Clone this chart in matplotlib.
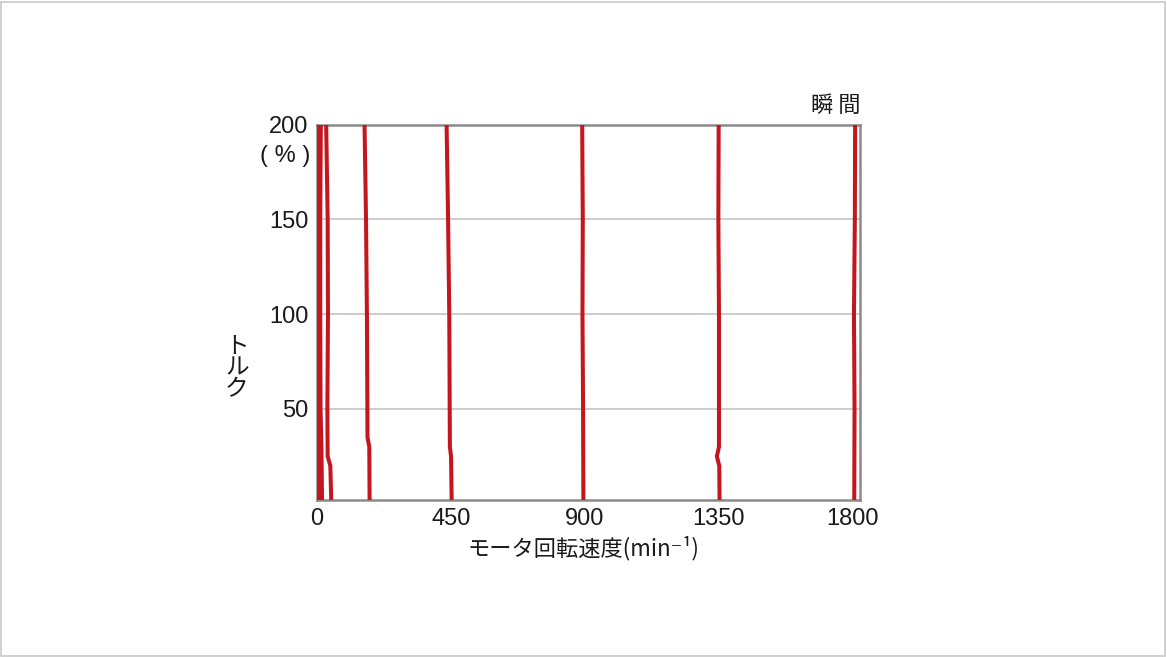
import matplotlib
matplotlib.use("Agg")
import matplotlib.pyplot as plt
from matplotlib.patches import Rectangle

plt.rcParams['font.family'] = ['Liberation Sans', 'Noto Sans CJK JP', 'DejaVu Sans']

# torque (%) sample points and motor speed (min^-1) of each red trace
torque_a = [2, 30, 50, 100, 150, 200]
speed_a = [5, 5, 4, 4, 4, 3]
torque_b = [2, 30, 50, 100, 150, 200]
speed_b = [17, 15, 12, 11, 11, 13]
torque_c = [2, 20, 25, 50, 100, 150, 200]
speed_c = [48, 45, 36, 35, 37, 36, 31]
torque_d = [2, 30, 35, 100, 150, 200]
speed_d = [177, 176, 170, 168, 165, 160]
torque_e = [2, 25, 30, 100, 150, 200]
speed_e = [453, 451, 447, 445, 441, 436]
torque_f = [2, 50, 100, 150, 200]
speed_f = [896, 895, 893, 894, 892]
torque_g = [2, 20, 25, 30, 100, 150, 200]
speed_g = [1354, 1353, 1345, 1352, 1352, 1350, 1351]
torque_h = [2, 50, 100, 150, 200]
speed_h = [1807, 1808, 1806, 1809, 1810]

traces = [(speed_a, torque_a), (speed_b, torque_b), (speed_c, torque_c),
          (speed_d, torque_d), (speed_e, torque_e), (speed_f, torque_f),
          (speed_g, torque_g), (speed_h, torque_h)]

x_ticks = [0, 450, 900, 1350, 1800]
y_ticks = [50, 100, 150, 200]
y_grid = [50, 100, 150]

fig = plt.figure(figsize=(11.67, 6.57), dpi=100)
fig.patches.append(Rectangle((0.001, 0.002), 0.997, 0.995, transform=fig.transFigure,
                             fill=False, edgecolor='#c8c8c8', linewidth=1.2))

ax = fig.add_axes([0.2716, 0.239, 0.4655, 0.5715])
for y in y_grid:
    ax.axhline(y, color='#c4c4c4', linewidth=1.2, zorder=1)

for sp, tq in traces:
    ax.plot(sp, tq, color='#c3161e', linewidth=2.9, solid_capstyle='butt', zorder=3)

ax.set_xlim(0, 1827)
ax.set_ylim(2, 200)
ax.set_xticks(x_ticks)
ax.set_yticks(y_ticks)
ax.tick_params(length=0, labelsize=17, pad=6, colors='#1a1a1a')
for s in ax.spines.values():
    s.set_color('#8a8a8a')
    s.set_linewidth(1.8)
    s.set_zorder(2)

fig.text(0.2445, 0.763, '( % )', fontsize=17, ha='center', va='center', color='#1a1a1a')
fig.text(0.203, 0.44, 'ト\nル\nク', fontsize=17, ha='center', va='center',
         linespacing=0.95, color='#1a1a1a', family=['Noto Sans CJK JP', 'DejaVu Sans'])
fig.text(0.5, 0.165, 'モータ回転速度(min⁻¹)', fontsize=16, ha='center', va='center',
         color='#1a1a1a', family=['Noto Sans CJK JP', 'DejaVu Sans'])
fig.text(0.737, 0.84, '瞬 間', fontsize=16, ha='right', va='center',
         color='#1a1a1a', family=['Noto Sans CJK JP', 'DejaVu Sans'])

fig.savefig('out.png', dpi=100, facecolor='white')
